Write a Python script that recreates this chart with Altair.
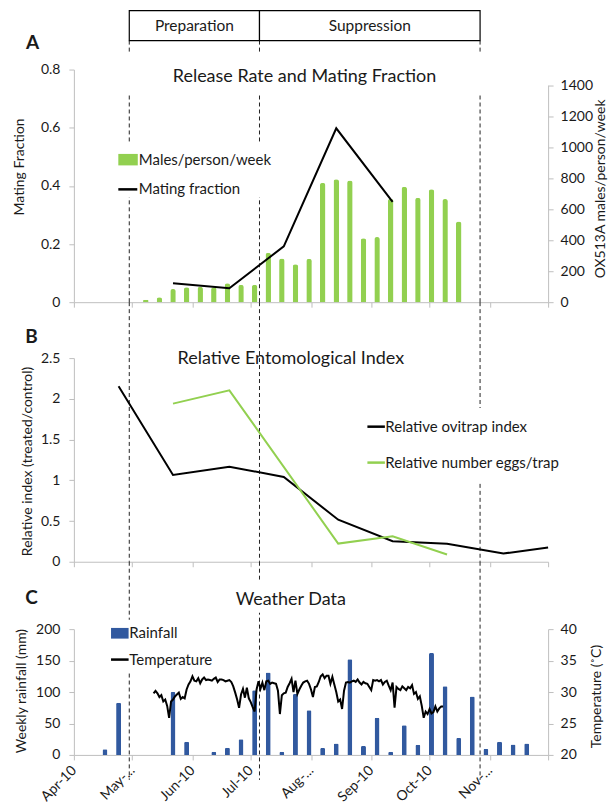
import altair as alt
import pandas as pd

FONT = "Lato"
TXT = "#1a1a1a"
AXC = "#BFBFBF"
GREEN = "#92D050"
BLUE = "#31599F"

W = 475
HA, HB, HC = 233, 204, 126
GAP_AB, GAP_BC = 56, 67.5

# ---------------- data ----------------
month_ticks = ["2010-04-01", "2010-05-01", "2010-06-01", "2010-07-01", "2010-08-01",
               "2010-09-01", "2010-10-01", "2010-11-01", "2010-12-01"]
month_labels = ["Apr-10", "May-...", "Jun-10", "Jul-10", "Aug-...", "Sep-10", "Oct-10", "Nov-...", ""]

phase_names = ["Preparation", "Suppression"]
phase_bounds = ["2010-04-29 12:00", "2010-07-05 12:00", "2010-10-27 00:00"]

# Panel A
release_start = "2010-05-08"
males_week = [15, 32, 85, 96, 100, 97, 122, 113, 113, 318, 282, 245,
              280, 769, 792, 784, 412, 420, 667, 745, 673, 728, 665, 520]
mating_dates = ["2010-05-22", "2010-06-20", "2010-07-18", "2010-08-14", "2010-09-12"]
mating_fraction = [0.065, 0.048, 0.192, 0.598, 0.345]

# Panel B
ovitrap_dates = ["2010-04-24", "2010-05-22", "2010-06-20", "2010-07-18", "2010-08-15",
                 "2010-09-12", "2010-10-10", "2010-11-08", "2010-12-01"]
ovitrap_index = [2.153, 1.066, 1.167, 1.040, 0.516, 0.252, 0.220, 0.101, 0.175]
eggs_dates = ["2010-05-22", "2010-06-20", "2010-08-15", "2010-09-12", "2010-10-10"]
eggs_index = [1.941, 2.104, 0.223, 0.313, 0.089]

# Panel C
rain_start = "2010-04-17"
rain_mm = [9, 83, 0, 0, 0, 100, 21, 0, 5, 11.5, 25, 103, 131, 5, 97, 71,
           11, 18, 152, 14, 59, 5, 47, 16, 162, 109, 27, 93, 9.6, 21, 16.5, 18]
temp_start = "2010-05-12"
temp_c = [29.8, 30.2, 29.8, 29.2, 29.5, 28.5, 28.8, 27.8, 25.9, 28.5,
          28.8, 29.3, 29.6, 29.9, 28.9, 29.2, 29.0, 30.4, 31.2, 31.7,
          32.5, 31.8, 31.7, 32.2, 31.4, 32.0, 32.3, 31.9, 32.0, 31.9,
          31.8, 32.1, 32.3, 31.6, 32.0, 32.0, 31.9, 31.7, 31.8, 31.9,
          31.6, 30.9, 29.9, 28.8, 27.5, 29.6, 30.5, 29.1, 30.7, 29.0,
          28.4, 27.6, 26.9, 30.4, 31.7, 30.5, 31.5, 30.3, 31.7, 31.8,
          31.3, 31.5, 31.4, 31.3, 30.2, 26.5, 29.5, 29.8, 29.9, 30.8,
          31.4, 32.1, 30.0, 31.8, 29.7, 30.4, 31.0, 31.5, 31.7, 31.8,
          31.3, 30.4, 29.2, 30.8, 30.9, 31.6, 32.5, 32.8, 32.2, 32.6,
          32.6, 31.3, 32.4, 31.2, 30.0, 28.5, 28.8, 27.3, 30.2, 31.5,
          31.6, 31.5, 31.7, 31.8, 31.6, 32.0, 31.5, 31.2, 31.6, 31.4,
          31.3, 30.8, 30.3, 31.9, 31.8, 31.9, 31.7, 31.9, 31.2, 31.6,
          31.8, 31.0, 30.3, 31.5, 27.5, 30.8, 30.5, 30.3, 30.9, 30.6,
          30.3, 30.8, 30.6, 31.1, 29.7, 30.0, 28.9, 29.3, 27.8, 25.9,
          26.9, 26.5, 27.3, 26.6, 26.8, 27.7, 26.9, 27.4, 27.7, 27.7]

titles = ["Release Rate and Mating Fraction", "Relative Entomological Index", "Weather Data"]
letters = ["A", "B", "C"]
legend_A = ["Males/person/week", "Mating fraction"]
legend_B = ["Relative ovitrap index", "Relative number eggs/trap"]
legend_C = ["Rainfall", "Temperature"]
ytitles = ["Mating Fraction", "OX513A males/person/week", "Relative index (treated/control)",
           "Weekly rainfall (mm)", "Temperature (\u02daC)"]

# ---------------- frames ----------------
df_males = pd.DataFrame({"date": pd.date_range(release_start, periods=len(males_week), freq="7D"),
                         "males": males_week})
df_mating = pd.DataFrame({"date": pd.to_datetime(mating_dates), "mf": mating_fraction})
df_ovi = pd.DataFrame({"date": pd.to_datetime(ovitrap_dates), "v": ovitrap_index})
df_eggs = pd.DataFrame({"date": pd.to_datetime(eggs_dates), "v": eggs_index})
df_rain = pd.DataFrame({"date": pd.date_range(rain_start, periods=len(rain_mm), freq="7D"),
                        "rain": rain_mm})
df_rain = df_rain[df_rain["rain"] > 0]
df_temp = pd.DataFrame({"date": pd.date_range(temp_start, periods=len(temp_c), freq="D"),
                        "t": temp_c})
pb = pd.to_datetime(phase_bounds)
df_phase = pd.DataFrame({"start": pb[:-1], "end": pb[1:], "name": phase_names})
df_phase["mid"] = df_phase["start"] + (df_phase["end"] - df_phase["start"]) / 2
df_rules = pd.DataFrame({"date": pb})
one = pd.DataFrame({"k": [0]})

# ---------------- helpers ----------------
def dt(s):
    t = pd.Timestamp(s)
    return alt.DateTime(year=t.year, month=t.month, date=t.day)

XSCALE = alt.Scale(domain=[dt(month_ticks[0]), dt(month_ticks[-1])], padding=0)
tick_vals = [dt(s) for s in month_ticks]
label_expr = "[" + ",".join("'%s'" % l for l in month_labels) + "][month(datum.value)-3]"

axis_common = dict(domainColor=AXC, tickColor=AXC, tickSize=5, grid=False,
                   labelFont=FONT, labelFontSize=14, labelColor=TXT,
                   titleFont=FONT, titleFontSize=14, titleColor=TXT, titleFontWeight="normal")
ytitle_common = dict(titleAngle=270, titleBaseline="middle", titleAlign="center")

X_NOLAB = alt.Axis(values=tick_vals, labels=False, title=None, **axis_common)
X_LAB = alt.Axis(values=tick_vals, labelExpr=label_expr, labelAngle=315, labelAlign="right",
                 labelBaseline="middle", labelPadding=8, title=None, labelOverlap=False,
                 **axis_common)
NUMFMT = ".2~f"


def X(field, axis):
    return alt.X(field, type="temporal", scale=XSCALE, axis=axis, title=None)


def rules(y1, y2, axis):
    return alt.Chart(df_rules).mark_rule(color="#222", strokeDash=[4, 3], strokeWidth=1).encode(
        x=X("date", axis), y=alt.value(y1), y2=alt.value(y2))


def white(x1, x2, y1, y2):
    return alt.Chart(one).mark_rect(fill="white").encode(
        x=alt.value(x1), x2=alt.value(x2), y=alt.value(y1), y2=alt.value(y2))


def label(text, x, y, size=15, align="left", weight="normal"):
    return alt.Chart(pd.DataFrame({"label": [text]})).mark_text(
        font=FONT, fontSize=size, color=TXT, align=align, baseline="middle",
        fontWeight=weight).encode(x=alt.value(x), y=alt.value(y), text="label:N")


def leg_square(color, x1, x2, y1, y2):
    return alt.Chart(one).mark_rect(color=color).encode(
        x=alt.value(x1), x2=alt.value(x2), y=alt.value(y1), y2=alt.value(y2))


def leg_line(color, x1, x2, y):
    return alt.Chart(one).mark_rule(color=color, strokeWidth=2.5).encode(
        x=alt.value(x1), x2=alt.value(x2), y=alt.value(y))


# ---------------- Panel A ----------------
boxes = alt.Chart(df_phase).mark_rect(fill="white", stroke="black", strokeWidth=1.2).encode(
    x=X("start", X_NOLAB), x2="end:T", y=alt.value(-59), y2=alt.value(-29))
box_text = alt.Chart(df_phase).mark_text(font=FONT, fontSize=15.5, color=TXT).encode(
    x=X("mid", X_NOLAB), y=alt.value(-44), text="name:N")

barsA = alt.Chart(df_males).mark_bar(color=GREEN, size=5.5, cornerRadiusTopLeft=2.5,
                                     cornerRadiusTopRight=2.5).encode(
    x=X("date", X_NOLAB),
    y=alt.Y("males:Q", scale=alt.Scale(domain=[0, 1400], range=[HA, HA * (1 - 1400 / 1500)]),
            axis=alt.Axis(orient="right", values=list(range(0, 1401, 200)), format=NUMFMT,
                          title=ytitles[1], titleX=52.5, titleY=119, labelPadding=7,
                          **ytitle_common, **axis_common)))
lineA = alt.Chart(df_mating).mark_line(color="black", strokeWidth=2).encode(
    x=X("date", X_NOLAB),
    y=alt.Y("mf:Q", scale=alt.Scale(domain=[0, 0.8]),
            axis=alt.Axis(orient="left", values=[0, 0.2, 0.4, 0.6, 0.8], format=NUMFMT,
                          title=ytitles[0], titleX=-54, titleY=97, labelPadding=9,
                          **ytitle_common, **axis_common)))

panelA = alt.layer(
    rules(-29, -16, X_NOLAB), rules(26, HA, X_NOLAB),
    boxes, box_text,
    white(42.5, 198.5, 74, 128),
    barsA, lineA,
    leg_square(GREEN, 44.5, 64, 84.5, 96), label(legend_A[0], 65, 90.3),
    leg_line("black", 44.5, 63.5, 120), label(legend_A[1], 65, 120),
    label(titles[0], 231, 7, size=18, align="center"),
    label(letters[0], -41.5, -26.5, size=19, align="center", weight="bold"),
).resolve_scale(y="independent").properties(width=W, height=HA)

# ---------------- Panel B ----------------
yB = alt.Scale(domain=[0, 2.5])
axB = alt.Axis(values=[0, 0.5, 1, 1.5, 2, 2.5], format=NUMFMT, title=ytitles[2],
               titleX=-46, titleY=103, labelPadding=9, **ytitle_common, **axis_common)
lineOvi = alt.Chart(df_ovi).mark_line(color="black", strokeWidth=2).encode(
    x=X("date", X_NOLAB), y=alt.Y("v:Q", scale=yB, axis=axB))
lineEggs = alt.Chart(df_eggs).mark_line(color=GREEN, strokeWidth=2).encode(
    x=X("date", X_NOLAB), y=alt.Y("v:Q", scale=yB, axis=axB))

panelB = alt.layer(
    rules(-GAP_AB, HB, X_NOLAB),
    white(288.5, 470, 50, 124),
    lineOvi, lineEggs,
    leg_line("black", 294, 311.5, 68.7), label(legend_B[0], 312, 68.7),
    leg_line(GREEN, 294, 311.5, 104.7), label(legend_B[1], 312, 104.7),
    label(titles[1], 217.3, 1, size=18, align="center"),
    label(letters[1], -42.5, -21.5, size=19, align="center", weight="bold"),
).properties(width=W, height=HB)

# ---------------- Panel C ----------------
barsC = alt.Chart(df_rain).mark_bar(color=BLUE, size=5, cornerRadiusTopLeft=1.5,
                                    cornerRadiusTopRight=1.5).encode(
    x=X("date", X_LAB),
    y=alt.Y("rain:Q", scale=alt.Scale(domain=[0, 200]),
            axis=alt.Axis(orient="left", values=[0, 50, 100, 150, 200], format=NUMFMT,
                          title=ytitles[3], titleX=-52, titleY=61.5, labelPadding=9,
                          **ytitle_common, **axis_common)))
lineT = alt.Chart(df_temp).mark_line(color="black", strokeWidth=2).encode(
    x=X("date", X_LAB),
    y=alt.Y("t:Q", scale=alt.Scale(domain=[20, 40]),
            axis=alt.Axis(orient="right", values=[20, 25, 30, 35, 40], format=NUMFMT,
                          title=ytitles[4], titleX=48, titleY=67, labelPadding=7,
                          **ytitle_common, **axis_common)))

panelC = alt.layer(
    rules(-GAP_BC, HC + 25, X_LAB),
    white(156.5, 276.5, -49.5, -16.5),
    white(34.5, 151.5, -9.5, 42.5),
    barsC, lineT,
    leg_square(BLUE, 37.2, 54.8, -1.2, 9.5), label(legend_C[0], 55.5, 4.2),
    leg_line("black", 37.2, 54.8, 30.5), label(legend_C[1], 55.5, 30.5),
    label(titles[2], 217.3, -29.5, size=18, align="center"),
    label(letters[2], -42.5, -31, size=19, align="center", weight="bold"),
).resolve_scale(y="independent").properties(width=W, height=HC)

chart = alt.vconcat(
    panelA,
    alt.vconcat(panelB, panelC, spacing=GAP_BC, bounds="flush"),
    spacing=GAP_AB, bounds="flush",
).properties(
    padding={"left": 5, "top": 1, "right": 0, "bottom": 0}
).configure(font=FONT).configure_view(stroke=None)

chart.save("out.html", embed_options={"renderer": "svg", "actions": False})
